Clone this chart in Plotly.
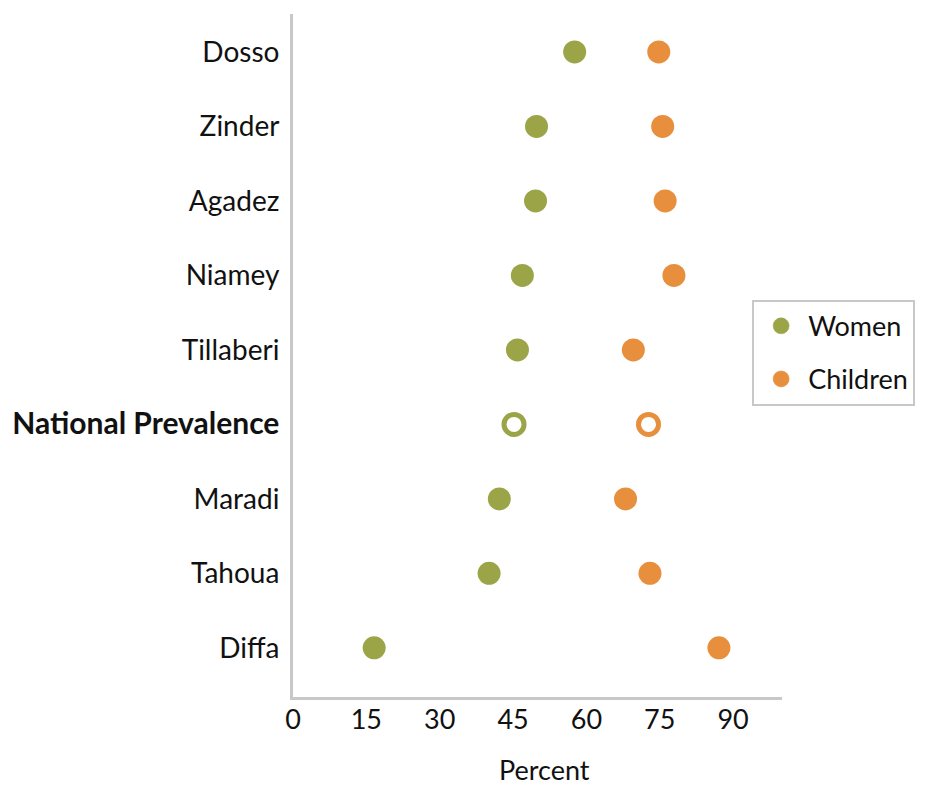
import plotly.graph_objects as go

regions = ["Dosso", "Zinder", "Agadez", "Niamey", "Tillaberi",
           "National Prevalence", "Maradi", "Tahoua", "Diffa"]
women = [57.6, 49.8, 49.6, 46.9, 45.9, 45.2, 42.2, 40.1, 16.6]
children = [74.8, 75.6, 76.1, 77.9, 69.6, 72.7, 68.0, 73.0, 87.1]
x_ticks = [0, 15, 30, 45, 60, 75, 90]

GREEN = "#9BA548"
ORANGE = "#E88F3E"
FONT = "Lato"
FS = 28

n = len(regions)
ypos = [n - 1 - i for i in range(n)]
national = [r == "National Prevalence" for r in regions]

def styles(color):
    fill = ["white" if nat else color for nat in national]
    size = [20 if nat else 23 for nat in national]
    lw = [5 if nat else 0 for nat in national]
    return dict(color=fill, size=size, opacity=1,
                line=dict(color=color, width=lw))

fig = go.Figure()
fig.add_trace(go.Scatter(x=women, y=ypos, mode="markers", name="Women",
                         marker=styles(GREEN), legendgroup="w"))
fig.add_trace(go.Scatter(x=children, y=ypos, mode="markers", name="Children",
                         marker=styles(ORANGE), legendgroup="c"))

ticktext = [f"<b><span style='font-size:30px'>{r}</span></b>"
            if r == "National Prevalence" else r for r in regions]

fig.update_layout(
    width=926, height=786,
    margin=dict(l=293, r=143, t=14, b=89),
    paper_bgcolor="white", plot_bgcolor="white",
    font=dict(family=FONT, size=FS, color="#111111"),
    xaxis=dict(range=[0, 100], tickvals=x_ticks, showgrid=False, zeroline=False,
               showline=True, linecolor="#C8C8C8", linewidth=3, automargin=False,
               ticks="", tickfont=dict(size=FS - 1), ticklabelstandoff=-3),
    yaxis=dict(range=[-0.66, 8.51], tickvals=ypos, ticktext=ticktext,
               showgrid=False, zeroline=False, showline=True, automargin=False,
               linecolor="#C8C8C8", linewidth=3, ticks="",
               ticklabelstandoff=5, tickfont=dict(size=FS)),
    legend=dict(x=0.937, xanchor="left", y=0.504, yanchor="middle",
                bordercolor="#C8C8C8", borderwidth=2, bgcolor="white",
                font=dict(size=FS - 1), tracegroupgap=15, traceorder="grouped",
                itemsizing="trace", itemwidth=44),
    annotations=[dict(text="Percent", xref="paper", yref="paper",
                      x=0.514, y=-0.106, xanchor="center", yanchor="middle",
                      showarrow=False, font=dict(size=FS - 1))],
    showlegend=True,
)

fig.write_html(
    "out.html",
    config={"displayModeBar": False},
    post_script="document.body.style.margin='0';document.body.style.overflow='hidden';",
)
